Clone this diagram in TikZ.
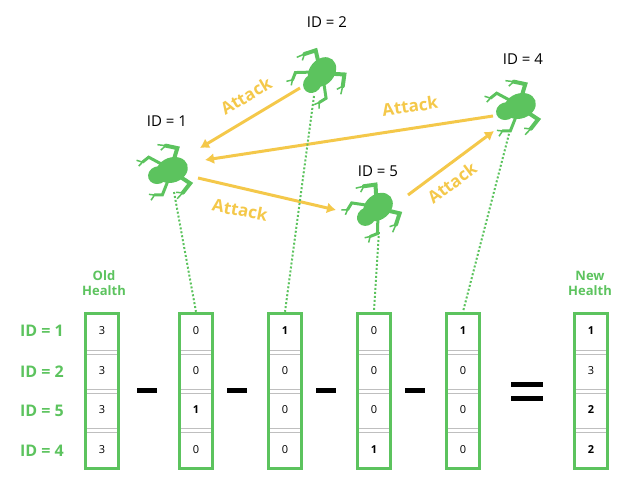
\documentclass[tikz,border=0pt]{standalone}
\usepackage{fontspec}
\setmainfont{Open Sans}
\usetikzlibrary{arrows.meta}
\definecolor{fg}{HTML}{5CC35E}
\definecolor{ay}{HTML}{F4C84A}
\begin{document}
\begin{tikzpicture}[x=1pt,y=-1pt,
 vec/.style={draw=fg,line width=3.5pt,minimum width=33pt,minimum height=155pt,inner sep=0},
 num/.style={font=\fontsize{11}{11}\selectfont},
 bnum/.style={font=\bfseries\fontsize{11}{11}\selectfont},
 rowl/.style={text=fg,font=\bfseries\fontsize{16}{16}\selectfont},
 idl/.style={font=\fontsize{15}{15}\selectfont},
 att/.style={text=ay,font=\bfseries\fontsize{17}{17}\selectfont},
 arr/.style={draw=ay,line width=3pt,-{Latex[length=9pt,width=11pt]}},
 dot/.style={draw=fg,line width=2pt,dotted},
 frog/.pic={
   \fill[fg] (0,0) ellipse[x radius=13,y radius=10];
   \fill[fg] (12,0) ellipse[x radius=8,y radius=7];
   \draw[fg,line width=4pt,line cap=round] (-4,-7)--(-10,-15)--(-2,-20);
   \draw[fg,line width=4pt,line cap=round] (-4,7)--(-10,15)--(-2,20);
   \draw[fg,line width=3pt,line cap=round] (6,-7)--(14,-16)--(20,-14);
   \draw[fg,line width=3pt,line cap=round] (6,7)--(14,16)--(20,14);
   \draw[fg,line width=1.5pt] (-2,-20)--(4,-23) (-2,-20)--(3,-18) (-2,20)--(4,23) (-2,20)--(3,18)
     (20,-14)--(24,-17) (20,-14)--(24,-12) (20,14)--(24,17) (20,14)--(24,12);
 }]
\useasboundingbox (0,0) rectangle (633,487);
% frogs
\pic[rotate=200,scale=1.25] (f1) at (172,170) {frog};
\pic[rotate=230,scale=1.25] (f2) at (322,72) {frog};
\pic[rotate=200,scale=1.25] (f4) at (520,106) {frog};
\pic[rotate=220,scale=1.25] (f5) at (378,207) {frog};
\node[idl] (i1) at (167,121) {ID = 1};
\node[idl] (i2) at (327,22) {ID = 2};
\node[idl] (i4) at (523,59) {ID = 4};
\node[idl] (i5) at (378,171) {ID = 5};
% arrows
\coordinate (a2s) at (300,88); \coordinate (a2e) at (200,148);
\draw[arr] (a2s)--(a2e);
\node[att,rotate=31] (t2) at (246,96) {Attack};
\coordinate (a4s) at (493,116); \coordinate (a4e) at (205,160);
\draw[arr] (a4s)--(a4e);
\node[att,rotate=8] (t4) at (410,106) {Attack};
\coordinate (a1s) at (198,178); \coordinate (a1e) at (336,210);
\draw[arr] (a1s)--(a1e);
\node[att,rotate=-11] (t1) at (240,210) {Attack};
\coordinate (a5s) at (408,195); \coordinate (a5e) at (494,131);
\draw[arr] (a5s)--(a5e);
\node[att,rotate=37] (t5) at (452,183) {Attack};
% vectors
\foreach \n/\x/\a/\b/\c/\d/\sa/\sb/\sc/\sd in {v0/102/3/3/3/3/num/num/num/num,
  v1/196/0/0/1/0/num/num/bnum/num, v2/285/1/0/0/0/bnum/num/num/num,
  v3/374/0/0/0/1/num/num/num/bnum, v4/463/1/0/0/0/bnum/num/num/num,
  v5/591/1/3/2/2/bnum/num/bnum/bnum}{
  \node[vec] (\n) at (\x,391) {};
  \foreach \yy in {350,389,428}{
    \draw[gray!50,line width=0.8pt] (\x-15,\yy)--(\x+15,\yy) (\x-15,\yy+4)--(\x+15,\yy+4);}
  \node[\sa] (\n a) at (\x,331) {\a};
  \node[\sb] (\n b) at (\x,371) {\b};
  \node[\sc] (\n c) at (\x,410) {\c};
  \node[\sd] (\n d) at (\x,450) {\d};
}
\foreach \x in {147,237,326,415}{\fill (\x-10,388) rectangle (\x+10,393);}
\fill (511,382) rectangle (543,387); \fill (511,396) rectangle (543,401);
\node[rowl] (r1) at (42,331) {ID = 1};
\node[rowl] (r2) at (42,372) {ID = 2};
\node[rowl] (r5) at (42,411) {ID = 5};
\node[rowl] (r4) at (42,451) {ID = 4};
\node[text=fg,font=\bfseries\fontsize{13}{15}\selectfont,align=center] (oh) at (104,283) {Old\\Health};
\node[text=fg,font=\bfseries\fontsize{13}{15}\selectfont,align=center] (nh) at (590,283) {New\\Health};
% dotted links
\draw[dot] (174,192)--(v1.north);
\draw[dot] (314,96)--(v2.north);
\draw[dot] (379,232)--(v3.north);
\draw[dot] (510,130)--(v4.north);
\end{tikzpicture}
\end{document}
